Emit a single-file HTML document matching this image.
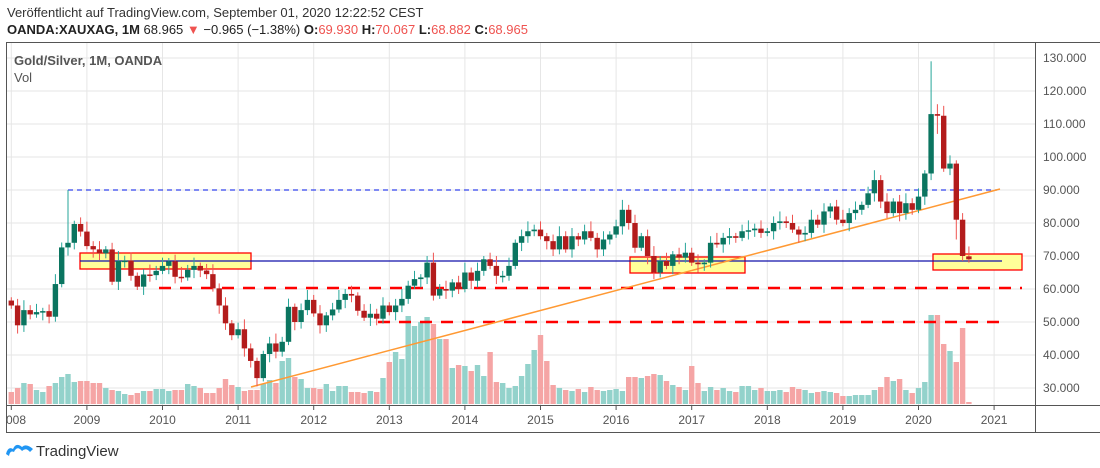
<!DOCTYPE html>
<html><head><meta charset="utf-8"><style>
body{margin:0;background:#fff;width:1100px;height:468px;overflow:hidden;font-family:"Liberation Sans",sans-serif}
svg{position:absolute;left:0;top:0}
</style></head><body>
<svg id="s" width="1100" height="468" xmlns="http://www.w3.org/2000/svg" font-family="Liberation Sans, sans-serif">
<defs><clipPath id="c"><rect x="7" y="43" width="1028" height="362"/></clipPath></defs>
<text x="7" y="17" font-size="13" fill="#333">Veröffentlicht auf TradingView.com, September 01, 2020 12:22:52 CEST</text>
<text x="7" y="34" font-size="13" fill="#222"><tspan font-weight="bold">OANDA:XAUXAG, 1M</tspan> 68.965 <tspan fill="#ef5350">▼</tspan> −0.965 (−1.38%) <tspan font-weight="bold">O:</tspan><tspan fill="#ef5350">69.930</tspan> <tspan font-weight="bold">H:</tspan><tspan fill="#ef5350">70.067</tspan> <tspan font-weight="bold">L:</tspan><tspan fill="#ef5350">68.882</tspan> <tspan font-weight="bold">C:</tspan><tspan fill="#ef5350">68.965</tspan></text>
<g id="grid"></g>
<g id="vol" clip-path="url(#c)"></g>
<g id="ov1" clip-path="url(#c)">
<rect x="80" y="253" width="171" height="16" fill="#ffff99" stroke="#f00" stroke-width="1.3"/>
<rect x="630" y="257" width="115" height="16" fill="#ffff99" stroke="#f00" stroke-width="1.3"/>
<rect x="933" y="254" width="89" height="16" fill="#ffff99" stroke="#f00" stroke-width="1.3"/>
<line x1="68" y1="190" x2="997" y2="190" stroke="#3344ee" stroke-width="1.2" stroke-dasharray="5,4"/>
<line x1="80" y1="261" x2="1002" y2="261" stroke="#1111aa" stroke-width="1.2"/>
<line x1="159" y1="288" x2="1022" y2="288" stroke="#f00" stroke-width="2.5" stroke-dasharray="12,9"/>
<line x1="378" y1="322" x2="1004" y2="322" stroke="#f00" stroke-width="2.5" stroke-dasharray="12,9"/>
<line x1="251" y1="387" x2="1000" y2="189" stroke="#ff9933" stroke-width="1.5"/>
</g>
<g id="cnd" clip-path="url(#c)"></g>
<g stroke="#555" stroke-width="1" fill="none">
<line x1="6" y1="42.5" x2="1100" y2="42.5"/>
<line x1="6.5" y1="42" x2="6.5" y2="432"/>
<line x1="1035.5" y1="42" x2="1035.5" y2="432"/>
<line x1="6" y1="405.5" x2="1100" y2="405.5"/>
<line x1="6" y1="432.5" x2="1100" y2="432.5"/>
</g>
<g id="ax" font-size="12" fill="#555"></g>
<text x="14" y="65" font-size="13" fill="#555" font-weight="bold">Gold/Silver, 1M, OANDA</text>
<text x="14" y="82" font-size="13" fill="#555">Vol</text>
<g transform="translate(6,441)">
<path d="M0 13 Q2 5 7 8 Q10 1 16 6 Q20 2 27 8 L24 11 Q20 6 16 10 Q11 4 8 11 Q4 9 3 15 Z" fill="#2196f3"/>
</g>
<text x="36" y="456" font-size="15" fill="#333">TradingView</text>
</svg>
<script>
var NS="http://www.w3.org/2000/svg";
function el(p,t,a,txt){var e=document.createElementNS(NS,t);for(var k in a)e.setAttribute(k,a[k]);if(txt)e.textContent=txt;document.getElementById(p).appendChild(e);return e;}
function Y(p){return 58+(130-p)*3.3;}
function X(m){return 11.3+m*6.3;}
for(var k=0;k<=10;k++){var y=58+k*33;el("grid","line",{x1:7,x2:1035,y1:y,y2:y,stroke:"#e6e6e6"});
 el("ax","text",{x:1043,y:y+4},(130-k*10).toFixed(3));}
for(var k=0;k<14;k++){var x=11.3+k*75.6;el("grid","line",{x1:x,x2:x,y1:43,y2:405,stroke:"#e6e6e6"});
 if(k==0)el("ax","text",{x:6,y:424},"008");else el("ax","text",{x:x,y:424,"text-anchor":"middle"},String(2008+k));
 el("ax","line",{x1:x,x2:x,y1:405,y2:410,stroke:"#555"});}
var C=[55,49,53.6,52.3,53,53.3,51.6,61.5,72.6,74,79.7,77.4,73,72,70.8,72,62.2,68.5,68.6,64,60.7,64.4,64.2,65.5,67,68.4,63.7,63.5,65.8,67,65.6,64.5,60.2,55,49.6,46,47.8,42,38.2,33,40.3,43.5,41,44,54.6,50,53.6,56.7,52.6,49,52,53.8,56.7,58.5,
58,53.4,51.3,52.5,51,55,53,55,57,61,63,63.5,68,58,60,59.5,62,60,65,62.5,65.5,69,67,64,64,67,74,76,77.5,78,76,74.5,72,76,72,76,75,77.5,75.5,72,75,76.5,79,84,80,72.5,76,70,65,68.5,67,70.5,69.5,71,68,67.5,68,74,73.5,75.5,76,75.5,77.5,77.8,78.3,77,77.5,80,80.5,80,78,76.5,77,81,79.5,83.5,85,81,80,
83,84,85.5,89,93,86.5,83,86.5,83,86,84,88,95,113,112.5,96.5,98,81,70,69];
var vl=[12,16,21,20,14,12,18,21,27,30,22,23,23,21,21,16,14,13,10,9,11,13,13,15,15,13,14,14,20,18,16,11,11,16,25,19,17,13,14,14,20,24,21,43,46,27,25,16,16,15,20,13,18,18,12,12,11,13,12,26,42,52,45,88,78,82,87,80,65,65,36,39,38,33,39,28,52,22,21,16,18,28,40,54,69,43,19,16,14,13,15,12,17,14,13,14,15,13,27,27,26,28,30,29,23,19,17,14,38,21,13,17,14,16,13,12,18,18,14,16,13,13,14,12,17,15,14,11,12,13,12,11,8];
var tail=[8,9,9,9,14,17,27,23,25,14,11,16,22,89,89,60,53,42,76,2];
for(var i=0;i<tail.length;i++)vl[133+i]=tail[i];
var hi={9:90,146:129,147:116,148:115.5,21:66};var lo={147:107,150:75,149:94.5};
for(var m=0;m<C.length;m++){
 var c=C[m],o=m?C[m-1]:56.5;if(m==147)o=113; if(m==152)o=69.9;
 var up=c>=o,x=X(m);
 var h=hi[m]||Math.max(o,c)+1+((m*7)%5)*0.5,l=lo[m]||Math.min(o,c)-1-((m*3)%4)*0.5;
 if(m==39){h=Math.max(o,c)+1;l=30.5;}
 var vh=vl[m]||14;
 el("vol","rect",{x:x-2.7,y:404-vh,width:5.4,height:vh,fill:up?"#93d2cb":"#f5a5a5"});
 el("cnd","line",{x1:x,x2:x,y1:Y(h),y2:Y(l),stroke:up?"#26a69a":"#ef5350","stroke-width":1});
 var t=Y(Math.max(o,c)),b=Y(Math.min(o,c));if(b-t<1.5){b=t+1.5;}
 el("cnd","rect",{x:x-2.7,y:t,width:5.4,height:b-t,fill:up?"#0b7560":"#b31c1c"});
}
</script>
</body></html>
